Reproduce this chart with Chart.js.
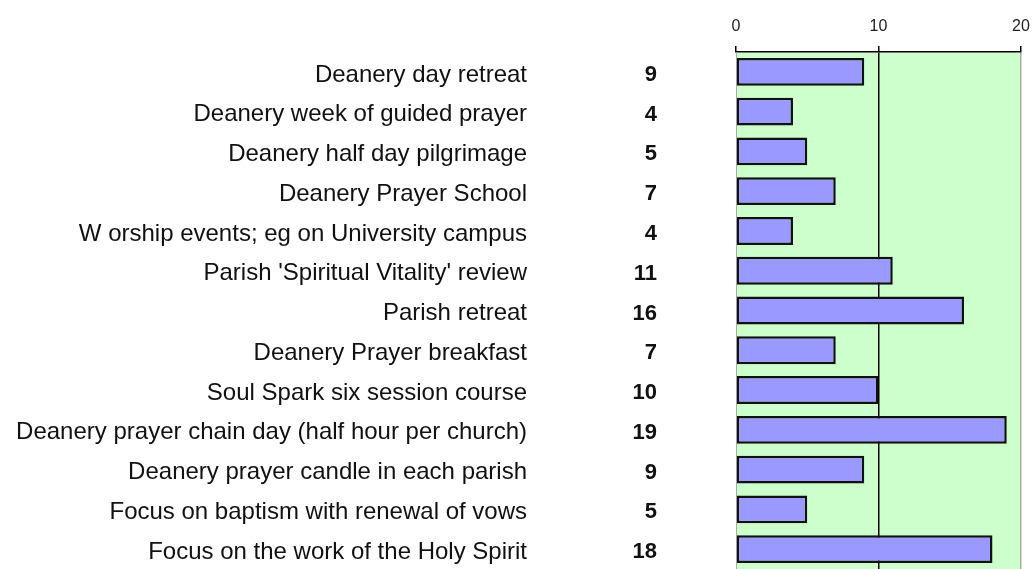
<!DOCTYPE html>
<html>
<head>
<meta charset="utf-8">
<script src="https://cdn.jsdelivr.net/npm/chart.js@4"></script>
<style>
    body { margin: 0; background: #fff; }
    #wrap { width: 1035px; height: 569px; }
</style>
</head>
<body>
<div id="wrap"><canvas id="eventChart" width="1035" height="569"></canvas></div>
<script>
// chart data
const categories = [
    'Deanery day retreat',
    'Deanery week of guided prayer',
    'Deanery half day pilgrimage',
    'Deanery Prayer School',
    'W orship events; eg on University campus',
    "Parish 'Spiritual Vitality' review",
    'Parish retreat',
    'Deanery Prayer breakfast',
    'Soul Spark six session course',
    'Deanery prayer chain day (half hour per church)',
    'Deanery prayer candle in each parish',
    'Focus on baptism with renewal of vows',
    'Focus on the work of the Holy Spirit'
];
const counts = [9, 4, 5, 7, 4, 11, 16, 7, 10, 19, 9, 5, 18];
const xTicks = [0, 10, 20];

const FONT = '"Liberation Sans", Arial, Helvetica, sans-serif';

// green plot background
const plotBackground = {
    id: 'plotBackground',
    beforeDraw(chart) {
        const { ctx, chartArea: a } = chart;
        ctx.save();
        ctx.fillStyle = '#ccffcc';
        ctx.fillRect(a.left, a.top, a.right - a.left, a.bottom - a.top);
        ctx.restore();
    }
};

// the column of numbers between the labels and the bars
const valueColumn = {
    id: 'valueColumn',
    afterDraw(chart) {
        const { ctx, chartArea: a } = chart;
        const y = chart.scales.y;
        ctx.save();
        ctx.font = 'bold 22px ' + FONT;
        ctx.fillStyle = '#111';
        ctx.textAlign = 'right';
        ctx.textBaseline = 'middle';
        counts.forEach((v, i) => {
            ctx.fillText(String(v), a.left - 79, y.getPixelForValue(i) + 3);
        });
        ctx.restore();
    }
};

const ctx = document.getElementById('eventChart').getContext('2d');

const eventChart = new Chart(ctx, {
    type: 'bar',
    data: {
        labels: categories,
        datasets: [{
            data: counts,
            backgroundColor: '#9999ff',
            borderColor: '#111',
            borderWidth: 2.5,
            borderSkipped: false,
            barPercentage: 0.7,
            categoryPercentage: 1
        }]
    },
    options: {
        indexAxis: 'y',
        responsive: false,
        animation: false,
        layout: { padding: { left: 0, right: 14, top: 0, bottom: 0 } },
        plugins: {
            legend: { display: false },
            tooltip: { enabled: false }
        },
        scales: {
            x: {
                position: 'top',
                min: 0,
                max: 20,
                afterBuildTicks: (scale) => {
                    scale.ticks = xTicks.map(v => ({ value: v }));
                },
                afterFit: (scale) => {
                    scale.height = 52;
                    scale.paddingLeft = 0;
                    scale.paddingRight = 0;
                },
                border: { display: true, color: '#000', width: 1.5 },
                grid: {
                    drawOnChartArea: true,
                    color: (c) => c.tick && c.tick.value === 10 ? '#000' : (c.tick && c.tick.value === 20 ? '#aaa' : 'rgba(0,0,0,0)'),
                    lineWidth: 1.5,
                    tickColor: '#000',
                    tickLength: 6
                },
                ticks: {
                    color: '#222',
                    padding: 10,
                    font: { family: FONT, size: 16 }
                }
            },
            y: {
                afterFit: (scale) => {
                    scale.width = 736;
                    scale.paddingTop = 0;
                    scale.paddingBottom = 0;
                },
                border: { display: true, color: '#aaa', width: 1 },
                grid: { display: false, drawTicks: false },
                ticks: {
                    color: '#111',
                    padding: 209,
                    labelOffset: 3,
                    autoSkip: false,
                    font: { family: FONT, size: 24 }
                }
            }
        }
    },
    plugins: [plotBackground, valueColumn]
});
</script>
</body>
</html>
